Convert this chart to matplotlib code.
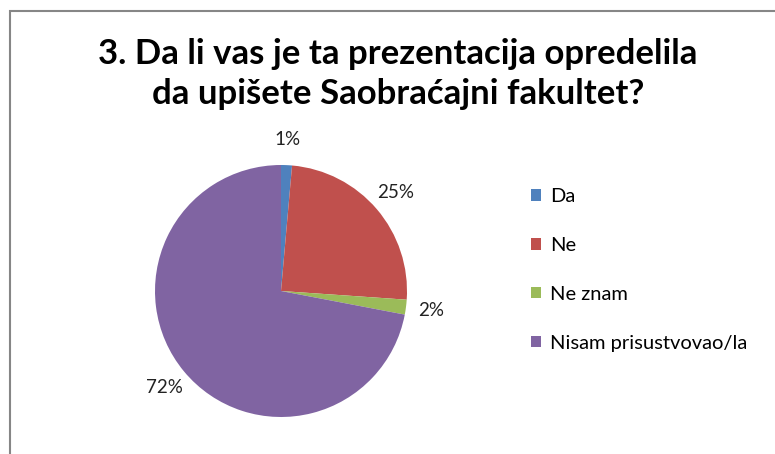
import matplotlib.pyplot as plt
from matplotlib.patches import Rectangle, Patch

# Data
labels = ['Da', 'Ne', 'Ne znam', 'Nisam prisustvovao/la']
values = [1.4, 24.7, 1.9, 72.0]
colors = ['#4F81BD', '#C0504D', '#9BBB59', '#8064A2']
title = '3. Da li vas je ta prezentacija opredelila\nda upišete Saobraćajni fakultet?'

plt.rcParams['font.family'] = ['Lato', 'DejaVu Sans']

W, H = 775, 454
fig = plt.figure(figsize=(W / 100, H / 100), dpi=100)

# chart frame (cut off on the right and bottom)
fig.patches.append(Rectangle((10 / W, -0.05), 1.0, (H - 11) / H + 0.05,
                             transform=fig.transFigure, fill=False,
                             edgecolor='#868686', linewidth=1.5))

# pie area
cx, cy, r = 281, H - 291, 126
ax = fig.add_axes([(cx - r) / W, (cy - r) / H, 2 * r / W, 2 * r / H])
wedges, texts, autotexts = ax.pie(values, colors=colors, startangle=90,
                                  counterclock=False, autopct='%1.0f%%',
                                  pctdistance=1.2, radius=1,
                                  textprops={'fontsize': 13.5, 'color': '#222222'})
ax.set_xlim(-1, 1)
ax.set_ylim(-1, 1)
ax.set_aspect('equal')

fig.text(398 / W, 1 - 74 / H, title, ha='center', va='center',
         fontsize=25, fontweight='bold', linespacing=1.3)

handles = [Patch(facecolor=c, edgecolor='none') for c in colors]
fig.legend(handles, labels, loc='upper left', bbox_to_anchor=(513 / W, 1 - 170 / H),
           frameon=False, fontsize=14.5, labelspacing=1.58, handlelength=0.5,
           handleheight=0.5, handletextpad=0.45)

fig.savefig('out.png', dpi=100)
